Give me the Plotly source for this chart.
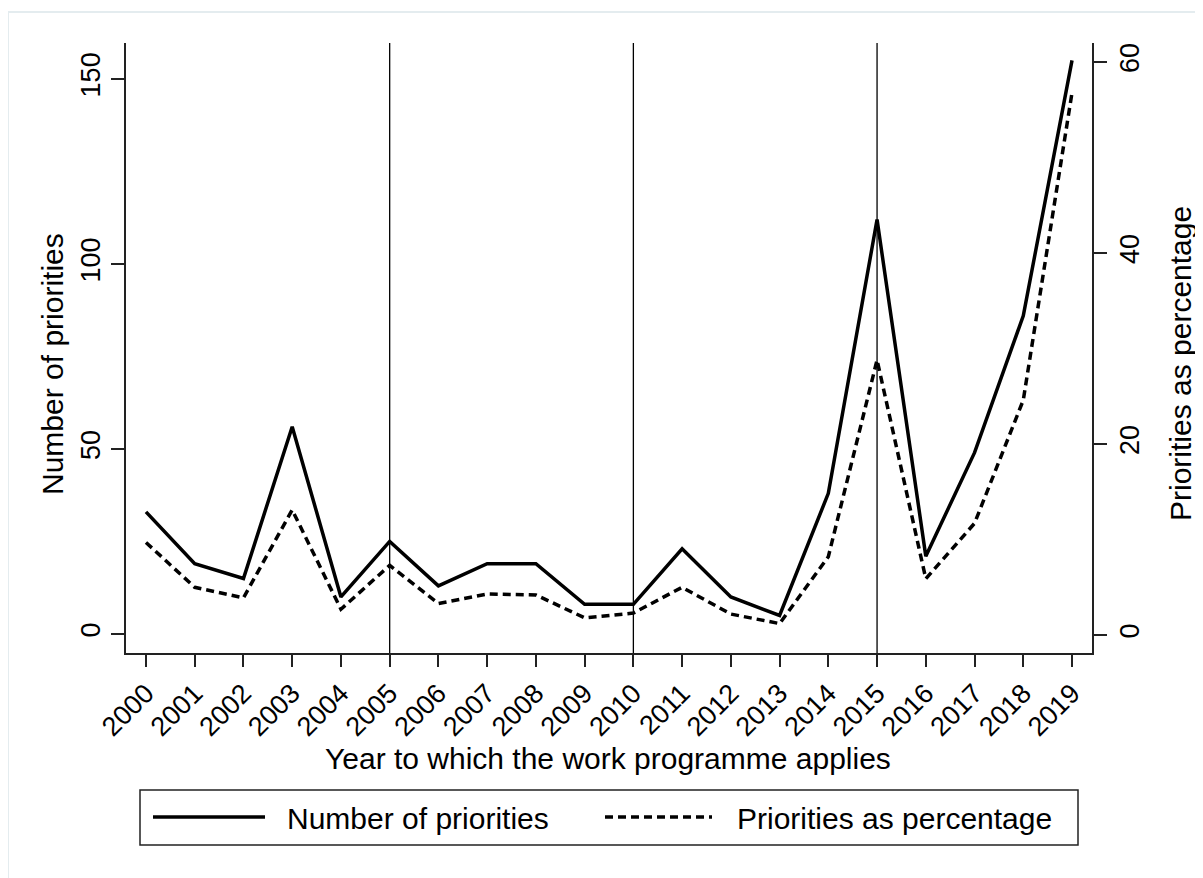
import plotly.graph_objects as go

years = list(range(2000, 2020))
num_priorities = [33, 19, 15, 56, 10, 25, 13, 19, 19, 8, 8, 23, 10, 5, 38, 112, 21, 49, 86, 155]
pct_priorities = [9.7, 5.0, 3.9, 13.1, 2.7, 7.3, 3.3, 4.3, 4.2, 1.8, 2.3, 5.0, 2.2, 1.2, 8.2, 28.8, 5.9, 11.7, 24.6, 56.8]
vline_years = [2005, 2010, 2015]
left_ticks = [0, 50, 100, 150]
right_ticks = [0, 20, 40, 60]

OFF = 8  # page body margin offset in the browser
W, H = 1203 - OFF, 878 - OFF
L, R, T, B = 126, 1092, 43, 653   # plot area in screenshot pixels
FONT = "Liberation Sans, Arial, sans-serif"


def px(xp):
    return (xp - L) / (R - L)


def py(yp):
    return (B - yp) / (B - T)


fig = go.Figure()
fig.add_trace(go.Scatter(x=years, y=num_priorities, mode="lines", name="Number of priorities",
                         line=dict(color="black", width=3.5), showlegend=False))
fig.add_trace(go.Scatter(x=years, y=pct_priorities, mode="lines", name="Priorities as percentage",
                         line=dict(color="black", width=3.5, dash="8px,5px"), yaxis="y2", showlegend=False))

shapes = []
for vy in vline_years:
    shapes.append(dict(type="line", xref="x", yref="paper", x0=vy, x1=vy, y0=0, y1=1,
                       line=dict(color="black", width=1.3), layer="below"))

# outer graph region border
shapes.append(dict(type="rect", xref="paper", yref="paper", x0=px(8), x1=px(1240), y0=py(12), y1=py(920),
                   line=dict(color="#e4ecef", width=2), layer="below"))

# legend box
shapes.append(dict(type="rect", xref="paper", yref="paper", x0=px(140), x1=px(1078), y0=py(790), y1=py(845),
                   line=dict(color="#222222", width=1.5), fillcolor="white"))
shapes.append(dict(type="line", xref="paper", yref="paper", x0=px(153), x1=px(265), y0=py(817), y1=py(817),
                   line=dict(color="black", width=3.5)))
shapes.append(dict(type="line", xref="paper", yref="paper", x0=px(605), x1=px(712), y0=py(817), y1=py(817),
                   line=dict(color="black", width=3.5, dash="8px,5px")))

TF = dict(size=30, family=FONT, color="black")
annotations = [
    dict(text="Number of priorities", xref="paper", yref="paper", x=px(285), y=py(818),
         xanchor="left", yanchor="middle", showarrow=False, font=TF),
    dict(text="Priorities as percentage", xref="paper", yref="paper", x=px(735), y=py(818),
         xanchor="left", yanchor="middle", showarrow=False, font=TF),
    dict(text="Year to which the work programme applies", xref="paper", yref="paper", x=px(608), y=py(758),
         xanchor="center", yanchor="middle", showarrow=False, font=TF),
    dict(text="Number of priorities", xref="paper", yref="paper", x=px(52), y=py(364), textangle=-90,
         xanchor="center", yanchor="middle", showarrow=False, font=TF),
    dict(text="Priorities as percentage", xref="paper", yref="paper", x=px(1180), y=py(364), textangle=-90,
         xanchor="center", yanchor="middle", showarrow=False, font=TF),
]

axis_common = dict(showgrid=False, zeroline=False, showline=True, linecolor="#222222", linewidth=1.5,
                   ticks="outside", tickcolor="#222222", tickwidth=1.5,
                   tickfont=dict(size=27, family=FONT, color="black"))

fig.update_layout(
    width=W, height=H,
    margin=dict(l=L - OFF, r=W - (R - OFF), t=T - OFF, b=H - (B - OFF), pad=0),
    paper_bgcolor="white", plot_bgcolor="white",
    xaxis=dict(range=[1999.59, 2019.41], tickvals=years, ticktext=[str(y) for y in years],
               tickangle=-45, ticklen=12, **axis_common),
    yaxis=dict(range=[-5.14, 159.7], tickvals=left_ticks, tickangle=-90, ticklen=13, **axis_common),
    yaxis2=dict(range=[-1.88, 62.0], tickvals=right_ticks, tickangle=-90, ticklen=13,
                overlaying="y", side="right", **axis_common),
    shapes=shapes,
    annotations=annotations,
    showlegend=False,
)

fig.write_html("out.html")
